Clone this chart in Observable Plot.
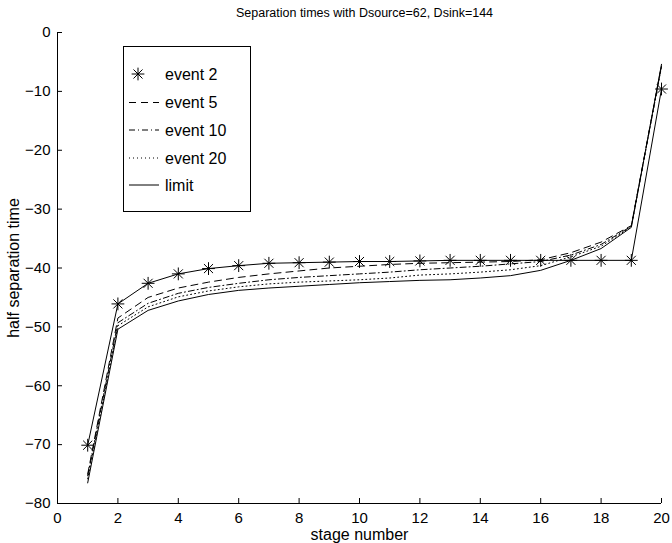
<!DOCTYPE html>
<html>
<head>
<meta charset="utf-8">
<script src="https://cdn.jsdelivr.net/npm/d3@7"></script>
<script src="https://cdn.jsdelivr.net/npm/@observablehq/plot@0.6"></script>
<style>
  html, body { margin: 0; padding: 0; background: #fff; }
  #wrap { position: relative; width: 672px; height: 543px; font-family: "Liberation Sans", Arial, Helvetica, sans-serif; }
</style>
</head>
<body>
<div id="wrap"></div>
<script>
// ---- data ----
const stages = [1,2,3,4,5,6,7,8,9,10,11,12,13,14,15,16,17,18,19,20];
const event2  = [-70.1,-46.1,-42.6,-41.0,-40.1,-39.6,-39.2,-39.1,-39.0,-38.9,-38.9,-38.8,-38.7,-38.7,-38.7,-38.7,-38.7,-38.7,-38.7,-9.6];
const event5  = [-75.0,-48.5,-45.0,-43.4,-42.4,-41.6,-41.0,-40.5,-40.0,-39.7,-39.4,-39.2,-39.1,-39.0,-38.9,-38.6,-37.4,-35.6,-32.8,-5.6];
const event10 = [-75.3,-49.3,-46.0,-44.3,-43.3,-42.6,-42.0,-41.6,-41.3,-41.0,-40.7,-40.3,-40.0,-39.7,-39.3,-38.9,-37.8,-36.0,-32.9,-5.7];
const event20 = [-75.8,-49.8,-46.6,-44.9,-43.9,-43.2,-42.7,-42.4,-42.2,-42.0,-41.7,-41.2,-41.0,-40.7,-40.3,-39.6,-38.1,-36.3,-33.0,-5.8];
const limit   = [-76.5,-50.4,-47.2,-45.6,-44.5,-43.8,-43.4,-43.1,-42.8,-42.5,-42.3,-42.1,-42.0,-41.7,-41.3,-40.4,-38.7,-36.7,-33.1,-5.4];
const xTicks = [0,2,4,6,8,10,12,14,16,18,20];
const yTicks = [-80,-70,-60,-50,-40,-30,-20,-10,0];
const titleText = "Separation times with Dsource=62, Dsink=144";
const xLabel = "stage number";
const yLabel = "half separation time";
const legendNames = ["event 2","event 5","event 10","event 20","limit"];

const rows = (ys) => stages.map((s, i) => ({x: s, y: ys[i]}));
const d2 = rows(event2), d5 = rows(event5), d10 = rows(event10), d20 = rows(event20), dL = rows(limit);

const font = '"Liberation Sans", Arial, Helvetica, sans-serif';
const fmt = d => (d < 0 ? "\u2212" + Math.abs(d) : String(d));

const W = 672, H = 543, mL = 57, mR = 11, mT = 32, mB = 40, tick = 5;
const frameW = W - mL - mR, frameH = H - mT - mB;

const chart = Plot.plot({
  width: W,
  height: H,
  marginLeft: mL,
  marginRight: mR,
  marginTop: mT,
  marginBottom: mB,
  style: {fontFamily: font, fontSize: "15px", color: "#000", background: "#fff"},
  x: {domain: [0, 20], ticks: xTicks},
  y: {domain: [-80, 0], ticks: yTicks},
  marks: [
    Plot.ruleX([0], {stroke: "#000", strokeWidth: 1}),
    Plot.ruleY([-80], {stroke: "#000", strokeWidth: 1}),
    // inward ticks
    Plot.ruleX(xTicks, {stroke: "#000", strokeWidth: 1, insetTop: frameH - tick}),
    Plot.ruleY(yTicks, {stroke: "#000", strokeWidth: 1, insetRight: frameW - tick}),
    Plot.axisX({ticks: xTicks, tickSize: 0, tickPadding: 9, tickFormat: fmt, label: null, fontSize: 15}),
    Plot.axisY({ticks: yTicks, tickSize: 0, tickPadding: 7, tickFormat: fmt, label: null, fontSize: 15}),
    Plot.line(dL, {x: "x", y: "y", stroke: "#000", strokeWidth: 1}),
    Plot.line(d20, {x: "x", y: "y", stroke: "#000", strokeWidth: 1, strokeDasharray: "1,3"}),
    Plot.line(d10, {x: "x", y: "y", stroke: "#000", strokeWidth: 1, strokeDasharray: "6,3,1,3"}),
    Plot.line(d5, {x: "x", y: "y", stroke: "#000", strokeWidth: 1, strokeDasharray: "7,5"}),
    Plot.line(d2, {x: "x", y: "y", stroke: "#000", strokeWidth: 1}),
    Plot.dot(d2, {x: "x", y: "y", symbol: "plus", r: 4.2, stroke: "#000", strokeWidth: 1}),
    Plot.dot(d2, {x: "x", y: "y", symbol: "times", r: 4.2, stroke: "#000", strokeWidth: 1}),
    Plot.text([titleText], {frameAnchor: "top", lineAnchor: "middle", dy: -20, dx: 5, fontSize: 12.5, fill: "#000"}),
    Plot.text([xLabel], {frameAnchor: "bottom", lineAnchor: "middle", dy: 31, fontSize: 16, fill: "#000"}),
    Plot.text([yLabel], {frameAnchor: "left", textAnchor: "middle", lineAnchor: "middle", dx: -44, rotate: -90, fontSize: 16, fill: "#000"})
  ]
});
document.getElementById("wrap").appendChild(chart);

// ---- legend (overlay box) ----
const lw = 128, lh = 166;
const leg = d3.create("svg").attr("width", lw).attr("height", lh)
  .style("position", "absolute").style("left", "123px").style("top", "46px");
leg.append("rect").attr("x", 0.5).attr("y", 0.5).attr("width", lw - 1).attr("height", lh - 1)
  .attr("fill", "#fff").attr("stroke", "#000").attr("stroke-width", 1);
const rowY = [28, 56.5, 84, 112, 139];
const dashes = [null, "7,5", "6,3,1,3", "1,3", null];
legendNames.forEach((name, i) => {
  const y = rowY[i];
  if (i === 0) {
    const g = leg.append("g").attr("transform", `translate(15,${y})`).attr("stroke", "#000").attr("stroke-width", 1).attr("fill", "none");
    g.append("path").attr("d", d3.symbol(d3.symbolsStroke[1], 55)());
    g.append("path").attr("d", d3.symbol(d3.symbolsStroke[2], 55)());
  } else {
    const l = leg.append("line").attr("x1", 6).attr("x2", 36).attr("y1", y).attr("y2", y)
      .attr("stroke", "#000").attr("stroke-width", 1);
    if (dashes[i]) l.attr("stroke-dasharray", dashes[i]);
  }
  leg.append("text").attr("x", 42).attr("y", y).attr("dy", "0.35em")
    .attr("font-family", font).attr("font-size", 16).attr("fill", "#000").text(name);
});
document.getElementById("wrap").appendChild(leg.node());
</script>
</body>
</html>
